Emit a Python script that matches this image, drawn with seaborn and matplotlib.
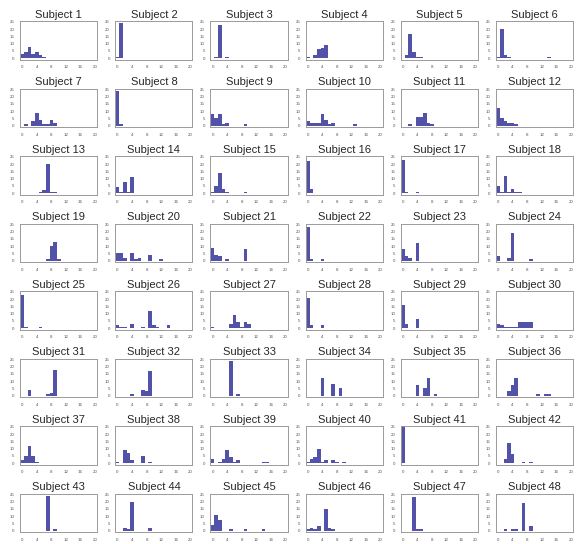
import matplotlib
matplotlib.use("Agg")
import matplotlib.pyplot as plt
import seaborn as sns
import pandas as pd

# Counts of each score value per subject (value: count)
s01 = {0: 3, 1: 4, 2: 8, 3: 3, 4: 4, 5: 2, 6: 1}
s02 = {0: 1, 1: 24}
s03 = {1: 1, 2: 23, 4: 1}
s04 = {0: 1, 2: 2, 3: 6, 4: 7, 5: 9}
s05 = {1: 2, 2: 17, 3: 4, 4: 1, 5: 1}
s06 = {0: 1, 1: 20, 2: 2, 3: 1, 14: 1}
s07 = {1: 1, 3: 3, 4: 9, 5: 4, 6: 1, 7: 1, 8: 4, 9: 2}
s08 = {0: 24, 1: 1}
s09 = {0: 8, 1: 5, 2: 8, 3: 1, 4: 2, 9: 1}
s10 = {0: 3, 1: 2, 2: 2, 3: 2, 4: 8, 5: 4, 6: 1, 7: 2, 13: 1}
s11 = {2: 1, 4: 6, 5: 6, 6: 9, 7: 2, 8: 1}
s12 = {0: 12, 1: 5, 2: 3, 3: 2, 4: 2, 5: 1}
s13 = {5: 1, 6: 2, 7: 20, 8: 1, 9: 1}
s14 = {0: 4, 1: 1, 2: 8, 3: 1, 4: 11}
s15 = {0: 1, 1: 5, 2: 14, 3: 3, 4: 1, 9: 1}
s16 = {0: 22, 1: 3}
s17 = {0: 23, 1: 1, 4: 1}
s18 = {0: 5, 1: 1, 2: 12, 3: 1, 4: 3, 5: 1, 6: 1}
s19 = {7: 1, 8: 10, 9: 13, 10: 1}
s20 = {0: 5, 1: 5, 2: 2, 4: 5, 5: 1, 6: 2, 9: 4, 12: 1}
s21 = {0: 9, 1: 4, 2: 3, 4: 1, 9: 8}
s22 = {0: 23, 1: 1, 4: 1}
s23 = {0: 8, 1: 3, 2: 2, 4: 12}
s24 = {0: 3, 3: 2, 4: 19, 9: 1}
s25 = {0: 23, 1: 1, 5: 1}
s26 = {0: 2, 1: 1, 2: 1, 4: 3, 7: 1, 9: 12, 10: 2, 11: 1, 14: 2}
s27 = {0: 1, 5: 3, 6: 9, 7: 4, 8: 1, 9: 4, 10: 3}
s28 = {0: 21, 1: 2, 4: 2}
s29 = {0: 16, 1: 3, 4: 6}
s30 = {0: 3, 1: 2, 2: 1, 3: 1, 4: 1, 5: 1, 6: 4, 7: 4, 8: 4, 9: 4}
s31 = {2: 4, 7: 1, 8: 2, 9: 18}
s32 = {4: 1, 7: 4, 8: 3, 9: 17}
s33 = {5: 24, 7: 1}
s34 = {4: 12, 7: 8, 9: 5}
s35 = {4: 7, 6: 5, 7: 12, 9: 1}
s36 = {3: 3, 4: 7, 5: 12, 11: 1, 13: 1, 14: 1}
s37 = {0: 2, 1: 5, 2: 12, 3: 5, 4: 1}
s38 = {0: 1, 2: 9, 3: 7, 4: 2, 7: 5, 9: 1}
s39 = {0: 3, 2: 1, 3: 3, 4: 9, 5: 4, 6: 1, 7: 2, 14: 1, 15: 1}
s40 = {0: 1, 1: 3, 2: 4, 3: 10, 4: 1, 5: 2, 7: 2, 8: 1, 10: 1}
s41 = {0: 26}
s42 = {2: 3, 3: 14, 4: 6, 7: 1, 9: 1}
s43 = {7: 24, 9: 1}
s44 = {2: 2, 3: 1, 4: 20, 9: 2}
s45 = {0: 4, 1: 11, 2: 7, 5: 1, 9: 1, 14: 1}
s46 = {0: 1, 1: 2, 2: 1, 3: 3, 5: 15, 6: 2, 7: 1}
s47 = {3: 23, 4: 1, 5: 1}
s48 = {2: 1, 4: 1, 5: 1, 7: 19, 9: 3}

subjects = [s01, s02, s03, s04, s05, s06, s07, s08, s09, s10, s11, s12,
            s13, s14, s15, s16, s17, s18, s19, s20, s21, s22, s23, s24,
            s25, s26, s27, s28, s29, s30, s31, s32, s33, s34, s35, s36,
            s37, s38, s39, s40, s41, s42, s43, s44, s45, s46, s47, s48]

x_ticks = [0, 2, 4, 6, 8, 10, 12, 14, 16, 18, 20]
x_labels = ["0", "", "4", "", "8", "", "12", "", "16", "", "20"]
y_ticks = [0, 5, 10, 15, 20, 25]

rows = []
for i, counts in enumerate(subjects, start=1):
    for value, n in counts.items():
        rows.append({"subject": i, "value": value, "count": n})
df = pd.DataFrame(rows)

sns.set_style("white")
plt.rcParams["font.family"] = ["Liberation Sans", "DejaVu Sans"]

bar_color = "#5252a8"
frame_color = "#9a9a9a"

fig = plt.figure(figsize=(5.77, 5.44), dpi=100)
axes = fig.subplots(8, 6)
fig.subplots_adjust(left=0.035, right=0.993, bottom=0.022, top=0.961,
                    wspace=0.234, hspace=0.76)

for i, ax in enumerate(axes.flat, start=1):
    sub = df[df["subject"] == i]
    sns.histplot(data=sub, x="value", weights="count", discrete=True,
                 color=bar_color, alpha=1, linewidth=0, ax=ax)
    ax.set_xlim(-0.6, 20.6)
    ax.set_ylim(-1, 25.5)
    ax.set_xticks(x_ticks)
    ax.set_xticklabels(x_labels)
    ax.set_yticks(y_ticks)
    ax.set_xlabel("")
    ax.set_ylabel("")
    ax.tick_params(axis="both", direction="out", length=2.5, width=0.6,
                   color=frame_color, labelcolor="#555555", labelsize=3.2,
                   pad=1.5)
    for spine in ax.spines.values():
        spine.set_color(frame_color)
        spine.set_linewidth(0.7)
    ax.set_title(f"Subject {i}", fontsize=8, pad=2.5)

fig.savefig("out.png", dpi=100)
